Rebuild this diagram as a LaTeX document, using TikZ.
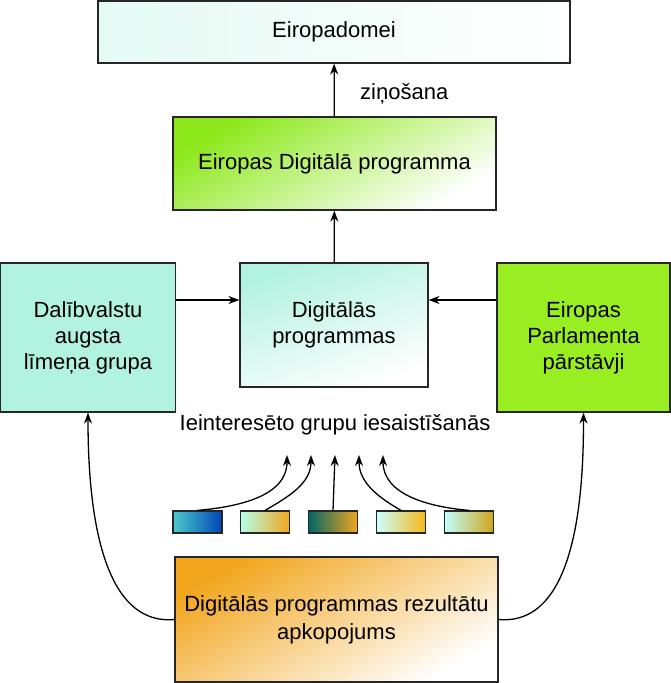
\documentclass[tikz,border=0pt]{standalone}
\usepackage{fontspec}
\setmainfont{Liberation Sans}
\usetikzlibrary{arrows.meta,positioning}

\definecolor{aqualight}{HTML}{B2F2E0}
\definecolor{limegreen}{HTML}{99EE22}
\definecolor{brightgreen}{HTML}{8CE81A}
\definecolor{softorange}{HTML}{F2A61E}

\begin{document}
\begin{tikzpicture}[x=1pt, y=-1pt, >={Stealth[length=11pt, width=8pt]}, line width=1.3pt,
font=\fontsize{22}{26}\selectfont,
box/.style={rectangle, draw=black!85, line width=1.2pt, align=center, inner sep=2pt},
chip/.style={rectangle, draw=black!85, line width=1.2pt, minimum width=49pt, minimum height=22pt}]
  \useasboundingbox (0,0) rectangle (670,683);
  % boxes
  \node[box, minimum width=472pt, minimum height=62pt, left color=aqualight!35, right color=white] (COUNCIL) at (334,32) {Eiropadomei};
  \node[box, minimum width=323pt, minimum height=93pt, top color=brightgreen, bottom color=white, shading angle=30] (EDA) at (334.5,163.5) {Eiropas Digitālā programma};
  \node[box, minimum width=188pt, minimum height=124pt, top color=aqualight, bottom color=white, shading angle=20] (DIGITAL) at (334,325) {Digitālās\\programmas};
  \node[box, minimum width=175pt, minimum height=149pt, fill=aqualight] (HLG) at (88,337.5) {Dalībvalstu\\augsta\\līmeņa grupa};
  \node[box, minimum width=173pt, minimum height=149pt, fill=limegreen] (EP) at (583.5,337.5) {Eiropas\\Parlamenta\\pārstāvji};
  \node[box, minimum width=323pt, minimum height=125pt, top color=softorange, bottom color=white, shading angle=30, font=\fontsize{22}{28}\selectfont] (REPORT) at (336.5,619.5) {Digitālās programmas rezultātu\\apkopojums};
  % stakeholders
  \node (STAKE) at (335,425) {Ieinteresēto grupu iesaistīšanās};
  \node[chip, left color=teal!60!cyan!70, right color=blue!45!teal] (S1) at (197.5,522) {};
  \node[chip, left color=green!30!cyan!30, right color=softorange] (S2) at (265,522) {};
  \node[chip, left color=teal!80!black, right color=softorange] (S3) at (333,522) {};
  \node[chip, left color=cyan!20, right color=softorange!80!yellow] (S4) at (401,522) {};
  \node[chip, left color=cyan!25, right color=orange!50!yellow!80!black!90] (S5) at (469,522) {};
  \coordinate (T1) at (287,455);
  \coordinate (T2) at (311,455);
  \coordinate (T3) at (335,455);
  \coordinate (T4) at (359,455);
  \coordinate (T5) at (383,455);
  % connectors
  \draw[->] (EDA) -- node[right=22pt, pos=0.42] {ziņošana} (COUNCIL);
  \draw[->] (DIGITAL) -- (EDA);
  \draw[->] (HLG.east |- 0,300) -- (DIGITAL.west |- 0,300);
  \draw[->] (EP.west |- 0,300) -- (DIGITAL.east |- 0,300);
  \draw[->] (S1.north) to[out=5, in=-90] (T1);
  \draw[->] (S2.north) to[out=30, in=-90] (T2);
  \draw[->] (S3.north) -- (T3);
  \draw[->] (S4.north) to[out=150, in=-90] (T4);
  \draw[->] (S5.north) to[out=175, in=-90] (T5);
  \draw[->] (REPORT.west) to[out=185, in=-90, looseness=0.9] (HLG.south);
  \draw[->] (REPORT.east) to[out=-5, in=-90, looseness=0.9] (EP.south);
\end{tikzpicture}
\end{document}
